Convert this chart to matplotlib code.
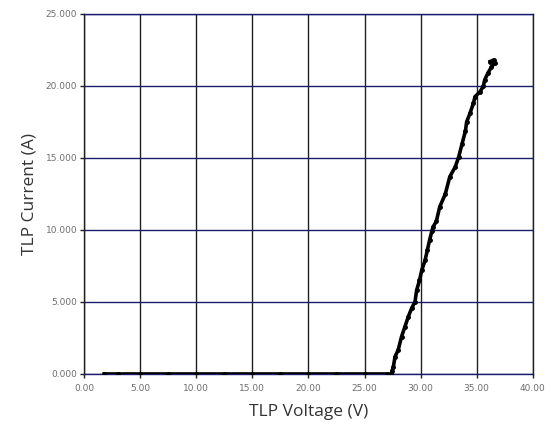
import matplotlib
matplotlib.use("Agg")
import matplotlib.pyplot as plt
from matplotlib.ticker import FormatStrFormatter

# TLP I-V data
voltage = [1.8, 3.0, 5.0, 7.5, 10.0, 12.5, 15.0, 17.5, 20.0, 22.5, 25.0, 27.0, 27.4,
           27.45, 27.57, 27.72, 28.0, 28.3, 28.6, 28.9, 29.2, 29.5, 29.65, 29.9, 30.1,
           30.4, 30.6, 30.8, 31.0, 31.1, 31.4, 31.7, 32.2, 32.6, 33.1, 33.4, 33.7,
           34.0, 34.1, 34.4, 34.7, 34.85, 35.3, 35.6, 35.7, 36.0, 36.3, 36.6, 36.5, 36.2]
current = [0.0, 0.0, 0.0, 0.0, 0.0, 0.0, 0.0, 0.0, 0.0, 0.0, 0.0, 0.0, 0.0,
           0.2, 0.51, 1.2, 1.67, 2.59, 3.28, 3.98, 4.56, 5.02, 5.83, 6.5, 7.2,
           7.9, 8.6, 9.3, 9.9, 10.2, 10.6, 11.6, 12.5, 13.7, 14.4, 15.1, 16.0,
           16.9, 17.5, 18.1, 18.8, 19.26, 19.6, 20.0, 20.4, 20.9, 21.3, 21.6, 21.8, 21.7]

x_ticks = [0, 5, 10, 15, 20, 25, 30, 35, 40]
y_ticks = [0, 5, 10, 15, 20, 25]

fig = plt.figure(figsize=(5.51, 4.33), dpi=100)
ax = fig.add_axes([0.1525, 0.1363, 0.967 - 0.1525, 0.9677 - 0.1363])

navy = "#1c1c6e"
dark = "#202020"

for xv in x_ticks:
    ax.axvline(xv, color=dark, lw=1.0, zorder=1)
for yv in y_ticks:
    ax.axhline(yv, color=navy, lw=1.0, zorder=1)

ax.plot(voltage, current, color="black", lw=2.6, marker="o", ms=2.5,
        solid_joinstyle="round", zorder=3)

ax.set_xlim(0, 40)
ax.set_ylim(0, 25)
ax.set_xticks(x_ticks)
ax.set_yticks(y_ticks)
ax.xaxis.set_major_formatter(FormatStrFormatter("%.2f"))
ax.yaxis.set_major_formatter(FormatStrFormatter("%.3f"))

for side, c in [("left", dark), ("right", dark), ("top", navy), ("bottom", navy)]:
    ax.spines[side].set_color(c)
    ax.spines[side].set_linewidth(1.0)

ax.tick_params(axis="both", length=3, width=1.0, color=dark,
               labelsize=6.5, labelcolor="#6e6e6e", pad=2)
ax.tick_params(axis="x", pad=4)

ax.set_xlabel("TLP Voltage (V)", fontsize=12.5, color="#333333",
              family="Open Sans", labelpad=8)
ax.set_ylabel("TLP Current (A)", fontsize=12.5, color="#333333",
              family="Open Sans", labelpad=6)

fig.savefig("out.png", dpi=100)
